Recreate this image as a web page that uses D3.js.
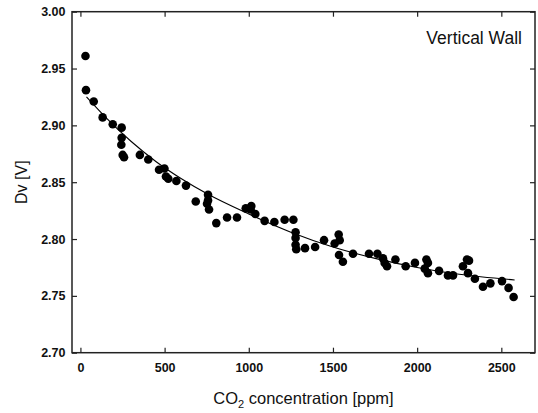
<!DOCTYPE html>
<html>
<head>
<meta charset="utf-8">
<script src="https://cdn.jsdelivr.net/npm/d3@7"></script>
<style>
  body { margin: 0; background: #fff; }
  svg { display: block; font-family: Arial, "Liberation Sans", sans-serif; }
  .axis .domain { display: none; }
  .axis line { stroke: #222; stroke-width: 1.2; }
  .axis text { font-size: 12.5px; font-weight: bold; fill: #111; }
</style>
</head>
<body>
<svg class="chart"></svg>
<script>
var co2 = [30, 33, 79, 132, 192, 245, 245, 243, 251, 259, 353, 403, 467, 499, 508, 522, 570, 627,
  685, 758, 758, 752, 764, 807, 871, 930, 982, 1015, 1011, 1039, 1094, 1152, 1213, 1265,
  1278, 1278, 1278, 1282, 1334, 1394, 1447, 1510, 1534, 1540, 1536, 1559, 1619, 1714, 1764,
  1797, 1807, 1821, 1871, 1932, 1987, 2055, 2064, 2045, 2064, 2130, 2183, 2213, 2272, 2296,
  2308, 2302, 2343, 2391, 2435, 2504, 2543, 2573];
var dv = [2.961, 2.931, 2.921, 2.907, 2.901, 2.898, 2.889, 2.883, 2.874, 2.872, 2.874, 2.870, 2.861, 2.862, 2.855, 2.853, 2.851, 2.847,
  2.833, 2.839, 2.834, 2.831, 2.826, 2.814, 2.819, 2.819, 2.827, 2.829, 2.826, 2.822, 2.816, 2.815, 2.817, 2.817,
  2.806, 2.801, 2.795, 2.791, 2.792, 2.793, 2.799, 2.796, 2.804, 2.799, 2.786, 2.780, 2.787, 2.787, 2.787,
  2.783, 2.779, 2.776, 2.782, 2.776, 2.779, 2.782, 2.779, 2.774, 2.770, 2.772, 2.768, 2.768, 2.776, 2.782,
  2.781, 2.770, 2.765, 2.758, 2.761, 2.763, 2.757, 2.749];

// fitted curve
var fitX = [36, 150, 300, 450, 600, 750, 1000, 1250, 1500, 1750, 2000, 2250, 2579];
var fitY = [2.925, 2.907, 2.886, 2.868, 2.853, 2.840, 2.822, 2.806, 2.793, 2.783, 2.775, 2.769, 2.764];

var xTicks = [0, 500, 1000, 1500, 2000, 2500];
var yTicks = [2.70, 2.75, 2.80, 2.85, 2.90, 2.95, 3.00];

var margin = {top: 11.7, right: 3, bottom: 60.3, left: 72},
    W = 538, H = 413,
    width = W - margin.left - margin.right,
    height = H - margin.top - margin.bottom;

var chart = d3.select('.chart')
    .attr('width', W)
    .attr('height', H);

var x = d3.scaleLinear().domain([-50, 2700]).range([0, width]),
    y = d3.scaleLinear().domain([2.70, 3.00]).range([height, 0]);

var g = chart.append('g')
    .attr('transform', 'translate(' + margin.left + ',' + margin.top + ')');

// frame
g.append('rect')
    .attr('width', width)
    .attr('height', height)
    .attr('fill', 'none')
    .attr('stroke', '#222')
    .attr('stroke-width', 1.5);

// axes, ticks pointing inwards
g.append('g')
    .attr('class', 'axis')
    .attr('transform', 'translate(0,' + height + ')')
    .call(d3.axisBottom(x).tickValues(xTicks).tickSize(-5).tickPadding(10).tickFormat(d3.format('d')));

g.append('g')
    .attr('class', 'axis')
    .call(d3.axisTop(x).tickValues(xTicks).tickSize(-5).tickFormat(''));

g.append('g')
    .attr('class', 'axis')
    .call(d3.axisLeft(y).tickValues(yTicks).tickSize(-5).tickPadding(6.5).tickFormat(d3.format('.2f')));

g.append('g')
    .attr('class', 'axis')
    .attr('transform', 'translate(' + width + ',0)')
    .call(d3.axisRight(y).tickValues(yTicks).tickSize(-5).tickFormat(''));

// fit line
var line = d3.line()
    .x(function(d, i) { return x(fitX[i]); })
    .y(function(d) { return y(d); })
    .curve(d3.curveMonotoneX);

g.append('path')
    .datum(fitY)
    .attr('d', line)
    .attr('fill', 'none')
    .attr('stroke', '#000')
    .attr('stroke-width', 1.1);

// points
g.selectAll('.dot')
    .data(co2)
  .enter().append('circle')
    .attr('class', 'dot')
    .attr('cx', function(d) { return x(d); })
    .attr('cy', function(d, i) { return y(dv[i]); })
    .attr('r', 4.3)
    .attr('fill', '#000');

// labels
var xt = chart.append('text')
    .attr('x', margin.left + width / 2)
    .attr('y', 404)
    .attr('text-anchor', 'middle')
    .style('font-size', '16.5px')
    .attr('fill', '#111');
xt.append('tspan').text('CO');
xt.append('tspan').attr('dy', 4).style('font-size', '11px').text('2');
xt.append('tspan').attr('dy', -4).text(' concentration [ppm]');

chart.append('text')
    .attr('transform', 'translate(26.5,' + (margin.top + height / 2) + ') rotate(-90)')
    .attr('text-anchor', 'middle')
    .style('font-size', '16px')
    .attr('fill', '#111')
    .text('Dv [V]');

chart.append('text')
    .attr('x', 522)
    .attr('y', 44.3)
    .attr('text-anchor', 'end')
    .style('font-size', '17.5px')
    .attr('fill', '#111')
    .text('Vertical Wall');
</script>
</body>
</html>
